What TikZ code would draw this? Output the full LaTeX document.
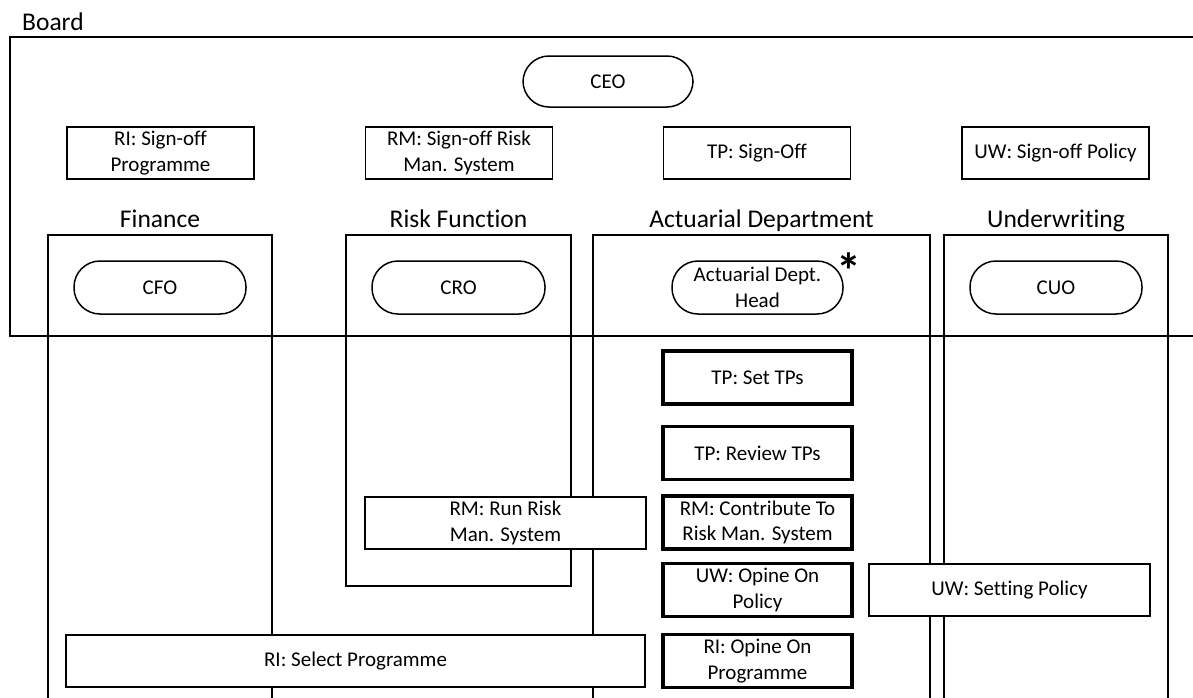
\documentclass[tikz,border=0pt]{standalone}
\usepackage{fontspec}
\setmainfont[Ligatures=NoCommon]{Carlito}
\newcommand\boxfont{\fontsize{21}{25.6}\selectfont}
\newcommand\labfont{\fontsize{25.5}{30}\selectfont}
\begin{document}
\begin{tikzpicture}[x=1pt,y=-1pt,
  thinline/.style={line width=1.5pt, draw=black},
  box/.style={draw=black, line width=1.5pt, fill=white, rectangle, inner sep=0pt,
    align=center, font=\boxfont, minimum height=52pt, minimum width=187pt},
  pill/.style={box, rounded corners=26pt, minimum width=171pt, minimum height=53pt},
  task/.style={box, line width=3.3pt, minimum width=189pt, minimum height=53pt},
  wide/.style={box, minimum width=281pt},
  lab/.style={font=\labfont, anchor=base, inner sep=0pt}]
\clip (0,0) rectangle (1193,697);
\fill[white] (0,0) rectangle (1193,697);
% Board
\node[lab, anchor=base west] (boardlab) at (22,30) {Board};
\draw[thinline] (1200,37) -- (10,37) -- (10,336) -- (1200,336);
% department boxes
\draw[thinline] (48,705) -- (48,235) -- (272,235) -- (272,705);
\draw[thinline] (346,235) rectangle (571,586);
\draw[thinline] (593,705) -- (593,235) -- (930,235) -- (930,705);
\draw[thinline] (944,705) -- (944,235) -- (1168,235) -- (1168,705);
% department labels
\node[lab] (finlab) at (160,227) {Finance};
\node[lab] (risklab) at (458.5,227) {Risk Function};
\node[lab] (actlab) at (761.5,227) {Actuarial Department};
\node[lab] (uwlab) at (1056,227) {Underwriting};
% board level
\node[pill, minimum width=170pt, minimum height=51pt] (ceo) at (608,81.5) {CEO};
\node[box] (risign) at (160.5,153) {RI: Sign-off\\Programme};
\node[box] (rmsign) at (459,153) {RM: Sign-off Risk\\Man. System};
\node[box] (tpsign) at (757,153) {TP: Sign-Off};
\node[box] (uwsign) at (1055.5,153) {UW: Sign-off Policy};
% heads
\node[pill, minimum width=172pt] (cfo) at (160,287.5) {CFO};
\node[pill, minimum width=173pt] (cro) at (458.5,287.5) {CRO};
\node[pill] (adh) at (757.5,287.5) {Actuarial Dept.\\Head};
\node[pill, minimum width=172pt] (cuo) at (1056,287.5) {CUO};
\node[font=\fontsize{50}{50}\selectfont\bfseries, anchor=base, inner sep=0pt] (star) at (849,288) {*};
% tasks
\node[task] (tpset) at (757.5,377.5) {TP: Set TPs};
\node[task] (tprev) at (757.5,453) {TP: Review TPs};
\node[task] (rmcon) at (757.5,522.5) {RM: Contribute To\\Risk Man. System};
\node[task] (uwop) at (757.5,590) {UW: Opine On\\Policy};
\node[task] (riop) at (757.5,661) {RI: Opine On\\Programme};
\node[wide] (rmrun) at (505.5,523) {RM: Run Risk\\Man. System};
\node[box, minimum width=579pt] (risel) at (355.5,661) {RI: Select Programme};
\node[wide] (uwset) at (1009.5,590) {UW: Setting Policy};
\end{tikzpicture}
\end{document}
